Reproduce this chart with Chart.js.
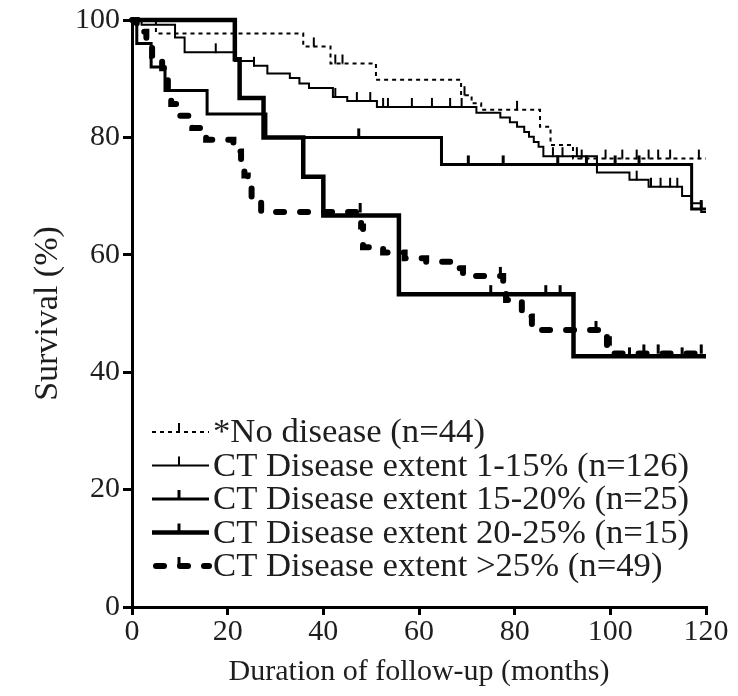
<!DOCTYPE html>
<html>
<head>
<meta charset="utf-8">
<script src="https://cdn.jsdelivr.net/npm/chart.js@4.4.0/dist/chart.umd.min.js"></script>
<style>
  html, body { margin: 0; padding: 0; background: #fff; }
  #wrap { width: 738px; height: 696px; }
</style>
</head>
<body>
<div id="wrap"><canvas id="chart" width="738" height="696"></canvas></div>
<script>
/* ---- values: [month, survival %] at each drop ---- */
var seriesLabels = [
  "*No disease (n=44)",
  "CT Disease extent 1-15% (n=126)",
  "CT Disease extent 15-20% (n=25)",
  "CT Disease extent 20-25% (n=15)",
  "CT Disease extent >25% (n=49)"
];

var noDisease = [[0,100],[5,97.7],[35.8,95.5],[41.5,92.6],[51,89.8],[68.8,87.2],[71,85.8],[73,84.7],
  [85.3,81.8],[87.5,78.7],[92.2,76.4],[120,76.4]];
var noDiseaseCensored = [38,42.5,44,69.5,80.5,94,99,102.5,105.5,108,110,112.5,118.5];

var extent1to15 = [[0,100],[2,99.2],[9,97],[11,94.5],[21.5,93],[25.5,92.2],[28.3,90.9],[33,90.1],[35,89.2],
  [37,88.4],[42,86.9],[45,86.2],[51.2,85.2],[72,84.2],[77,83.4],[79,82.6],[80.5,81.8],[82,80.9],[83,80.1],
  [84,79.2],[85,78.4],[86,76.8],[97.2,74],[104,72.8],[108,71.6],[115,70],[117,68.8],[119,67.3],[120,67.3]];
var extent1to15Censored = [17.5,25.5,42.5,47,49.8,52.5,53.5,58.5,62.7,66.5,68.9,88,90,93,105.5,108.5,110.5,112.5,114];

var extent15to20 = [[0,100],[1,96],[4,92],[6.9,88],[15.7,84],[28,80],[64.7,75.4],[117,67.8],[120,67.8]];
var extent15to20Censored = [47.4,70.3,77.6,89,95,101,106,119];

var extent20to25 = [[0,100],[21.5,93.3],[22.5,86.7],[27.5,80],[35.8,73.3],[40,66.7],[55.8,53.3],[92.3,42.7],[120,42.7]];
var extent20to25Censored = [75,86.5,89.5,104,115];

var extentOver25 = [[0,100],[1,98],[3,95.9],[4.2,93.9],[6.3,91.8],[7,89.8],[7.5,87.8],[8.2,85.7],[9.3,83.7],
  [12.6,81.6],[15.5,79.6],[21.2,77.6],[22.8,75.5],[23.5,73.5],[24.2,71.4],[25,69.4],[27,67.3],[47.9,64.8],
  [48.3,61.3],[52.5,60.4],[57,59.4],[61.5,58.8],[67.8,57.7],[69.2,56.4],[77.6,54.4],[78.2,52.3],[81.5,49.5],
  [83.6,47.2],[99.3,44.6],[100.8,43.2],[120,43.2]];
var extentOver25Censored = [47.7,77,97,100,107,110,119];

var xTicks = [0,20,40,60,80,100,120];
var yTicks = [0,20,40,60,80,100];
var xTitle = "Duration of follow-up (months)";
var yTitle = "Survival (%)";

/* ---- styling ---- */
var serif = "'Liberation Serif', 'Times New Roman', serif";
var textColor = '#1e1e1e';
var styles = [
  { width: 2,   dash: [4, 4],  cap: 'butt',  tick: 2 },
  { width: 2,   dash: [],      cap: 'butt',  tick: 2 },
  { width: 3,   dash: [],      cap: 'butt',  tick: 3 },
  { width: 4.5, dash: [],      cap: 'butt',  tick: 3 },
  { width: 6,   dash: [8, 16], cap: 'round', tick: 3 }
];
var curves = [noDisease, extent1to15, extent15to20, extent20to25, extentOver25];
var censored = [noDiseaseCensored, extent1to15Censored, extent15to20Censored, extent20to25Censored, extentOver25Censored];

function survivalAt(steps, t) {
  var s = steps[0][1];
  for (var i = 0; i < steps.length; i++) {
    if (steps[i][0] <= t) s = steps[i][1];
  }
  return s;
}

// small vertical tick above the curve, used as the censor mark
function tickMark(w) {
  var c = document.createElement('canvas');
  c.width = Math.ceil(w) + 2;
  c.height = 20;
  var g = c.getContext('2d');
  g.fillStyle = '#000';
  g.fillRect((c.width - w) / 2, 1, w, 9.5);
  return c;
}

var datasets = [];
curves.forEach(function(steps, i) {
  var st = styles[i];
  datasets.push({
    label: seriesLabels[i],
    data: steps.map(function(p) { return { x: p[0], y: p[1] }; }),
    stepped: true,
    borderColor: '#000',
    borderWidth: st.width,
    borderDash: st.dash,
    borderCapStyle: st.cap,
    pointRadius: 0,
    fill: false,
    clip: false
  });
  datasets.push({
    label: seriesLabels[i] + ' censored',
    data: censored[i].map(function(t) { return { x: t, y: survivalAt(steps, t) }; }),
    showLine: false,
    pointStyle: tickMark(st.tick),
    pointRadius: 6,
    clip: false
  });
});

var legendPlugin = {
  id: 'kmLegend',
  afterDatasetsDraw: function(chart) {
    var ctx = chart.ctx, a = chart.chartArea;
    ctx.save();
    seriesLabels.forEach(function(label, i) {
      var st = styles[i];
      var y = a.top + 412 + i * 33.5;
      var x0 = a.left + 20, x1 = a.left + 77;
      ctx.strokeStyle = '#000';
      ctx.lineWidth = st.width;
      ctx.lineCap = st.cap;
      ctx.setLineDash(st.dash);
      ctx.beginPath();
      ctx.moveTo(i == 4 ? x0 + 4 : x0, y);
      ctx.lineTo(x1, y);
      ctx.stroke();
      ctx.setLineDash([]);
      ctx.fillStyle = '#000';
      ctx.fillRect(a.left + 47 - st.tick / 2, y - 9, st.tick, 9);
      ctx.fillStyle = textColor;
      ctx.font = '34.7px ' + serif;
      ctx.textBaseline = 'middle';
      ctx.textAlign = 'left';
      ctx.fillText(label, a.left + 81, y + 1);
    });
    ctx.restore();
  }
};

var ctx = document.getElementById('chart').getContext('2d');
var chart = new Chart(ctx, {
  type: 'line',
  data: { datasets: datasets },
  plugins: [legendPlugin],
  options: {
    responsive: false,
    animation: false,
    layout: { padding: { top: 20, right: 32, bottom: 0, left: 0 } },
    plugins: { legend: { display: false }, tooltip: { enabled: false } },
    scales: {
      x: {
        type: 'linear', min: 0, max: 120,
        afterBuildTicks: function(s) { s.ticks = xTicks.map(function(v) { return { value: v }; }); },
        afterFit: function(s) { s.height = 89; },
        grid: { display: true, drawOnChartArea: false, drawTicks: true, tickLength: 8, tickWidth: 3, lineWidth: 3, tickColor: '#000', color: '#000' },
        border: { display: true, color: '#000', width: 3 },
        ticks: { color: textColor, font: { family: serif, size: 30, lineHeight: 1 }, padding: 2, maxRotation: 0, autoSkip: false },
        title: { display: true, text: xTitle, color: textColor, font: { family: serif, size: 30, lineHeight: 1.2 }, padding: { top: 0, bottom: 6 } }
      },
      y: {
        type: 'linear', min: 0, max: 100,
        afterBuildTicks: function(s) { s.ticks = yTicks.map(function(v) { return { value: v }; }); },
        afterFit: function(s) { s.width = 132; },
        grid: { display: true, drawOnChartArea: false, drawTicks: true, tickLength: 9, tickWidth: 3, lineWidth: 3, tickColor: '#000', color: '#000' },
        border: { display: true, color: '#000', width: 3 },
        ticks: { color: textColor, font: { family: serif, size: 30, lineHeight: 1 }, padding: 3, autoSkip: false },
        title: { display: true, text: yTitle, color: textColor, font: { family: serif, size: 34, lineHeight: 1.2 }, padding: { top: 28, bottom: 0 } }
      }
    }
  }
});
</script>
</body>
</html>
